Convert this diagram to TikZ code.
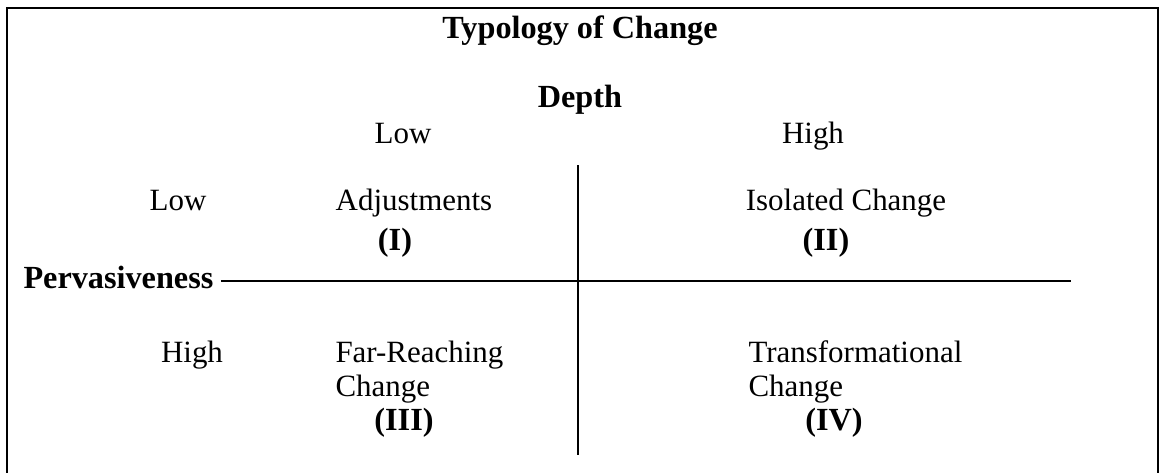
\documentclass[tikz,border=0pt]{standalone}
\usepackage{fontspec}
\setmainfont{Liberation Serif}
\usepackage{tikz}
\usetikzlibrary{
    positioning,
    calc
}

\begin{document}
\begin{tikzpicture}[
    x=0.3876pt, y=-0.3876pt,
    every node/.style={font=\fontsize{12}{13.8}\selectfont, inner sep=0pt, anchor=base},
    heading/.style={font=\fontsize{12.5}{14}\selectfont\bfseries},
    level/.style={anchor=base},
    quadrant/.style={anchor=base west},
    numeral/.style={font=\fontsize{12.5}{14}\selectfont\bfseries, anchor=base},
    axis/.style={line width=1.1pt},
    frame/.style={line width=0.8pt}
]

\useasboundingbox (0,0) rectangle (1164,472);
\draw[frame] (7,8) rectangle (1158,490);

\node[heading] (title) at (580,38) {Typology of Change};
\node[heading] (depth) at (580,107) {Depth};

% depth levels across the top
\node[level] (dlow) at (403,143) {Low};
\node[level] (dhigh) at (813,143) {High};

% pervasiveness levels down the side
\node[level] (plow) at (178,210) {Low};
\node[level] (phigh) at (192,362) {High};

% the four quadrants
\node[level] (adjust) at (414,210) {Adjustments};
\node[numeral] (q1) at (395,250) {(I)};
\node[level] (isolated) at (846,210) {Isolated Change};
\node[numeral] (q2) at (826,250) {(II)};

\node[quadrant] (farreach) at (335,362) {Far-Reaching};
\node[quadrant] (farchange) at (335,396) {Change};
\node[numeral] (q3) at (404,430) {(III)};
\node[quadrant] (transform) at (748,362) {Transformational};
\node[quadrant] (transchange) at (748,396) {Change};
\node[numeral] (q4) at (834,430) {(IV)};

% axes
\node[heading, anchor=base west] (perv) at (23,288) {Pervasiveness};
\coordinate (hend) at (1071,281);
\coordinate (vtop) at (578,165);
\coordinate (vbot) at (578,455);
\draw[axis] ($(perv.east |- hend)+(7,0)$) -- (hend);
\draw[axis] (vtop) -- (vbot);

\end{tikzpicture}
\end{document}
